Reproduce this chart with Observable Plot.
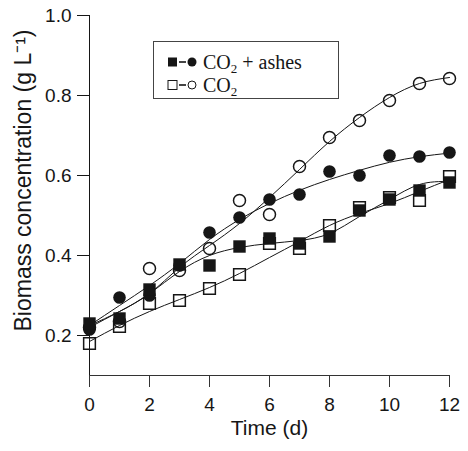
<!DOCTYPE html>
<html><head><meta charset="utf-8">
<script src="https://cdn.jsdelivr.net/npm/d3@7"></script>
<script src="https://cdn.jsdelivr.net/npm/@observablehq/plot@0.6"></script>
<style>body{margin:0;background:#fff}</style>
</head><body><div id="chart"></div>
<script>
const days = [0,1,2,3,4,5,6,7,8,9,10,11,12];
// measured points
const ashSquares = [0.23, 0.2425, 0.315, 0.3775, 0.375, 0.4225, 0.4425, 0.43, 0.4475, 0.5125, 0.54, 0.5625, 0.5825];
const ashCircles = [0.215, 0.295, 0.30, 0.375, 0.4575, 0.495, 0.54, 0.5525, 0.61, 0.60, 0.65, 0.6475, 0.6575];
const co2Squares = [0.18, 0.2225, 0.28, 0.2875, 0.3175, 0.3525, 0.43, 0.4175, 0.475, 0.52, 0.545, 0.5375, 0.5975];
const co2Circles = [0.22, 0.235, 0.3675, 0.3625, 0.4175, 0.5375, 0.5025, 0.6225, 0.695, 0.7375, 0.7875, 0.83, 0.8425];
// fitted curves
const fitAshSquares = [0.225, 0.26, 0.305, 0.36, 0.40, 0.42, 0.43, 0.4375, 0.455, 0.4975, 0.54, 0.5775, 0.585];
const fitAshCircles = [0.225, 0.275, 0.325, 0.38, 0.44, 0.49, 0.53, 0.563, 0.59, 0.613, 0.633, 0.647, 0.656];
const fitCo2Squares = [0.185, 0.225, 0.26, 0.29, 0.32, 0.355, 0.395, 0.435, 0.475, 0.505, 0.53, 0.56, 0.59];
const fitCo2Circles = [0.22, 0.26, 0.305, 0.37, 0.425, 0.48, 0.545, 0.615, 0.685, 0.745, 0.795, 0.83, 0.845];
const xTicks = [0,2,4,6,8,10,12];
const yTicks = [0.2,0.4,0.6,0.8,1.0];
const xTitle = "Time (d)";
const yTitle = "Biomass concentration (g L⁻¹)";
const legendLabels = [["CO", "2", " + ashes"], ["CO", "2", ""]];

const pts = vals => days.map((t,i) => ({t, v: vals[i]}));
const ink = "#161616";
const lineOpts = {x:"t", y:"v", stroke: ink, strokeWidth: 1, curve: "natural"};

const chart = Plot.plot({
  width: 468, height: 451,
  marginLeft: 89, marginRight: 19, marginTop: 15, marginBottom: 76,
  x: {domain: [0, 12]},
  y: {domain: [0.1, 1.0]},
  style: {fontFamily: "'Liberation Sans', Arial, sans-serif", background: "white", color: ink},
  marks: [
    Plot.ruleX([0], {y1: 0.1, y2: 1.0, stroke: ink}),
    Plot.ruleY([0.1], {x1: 0, x2: 12, stroke: "#333"}),
    Plot.axisX({ticks: xTicks, tickSize: 12, tickPadding: 10, fontSize: 19, label: null, stroke: "#333"}),
    Plot.axisY({ticks: yTicks, tickSize: 12, tickPadding: 6, fontSize: 19, tickFormat: d3.format(".1f"), label: null}),
    Plot.text([xTitle], {frameAnchor: "bottom", dy: 59, fontSize: 21}),
    Plot.text([yTitle], {frameAnchor: "left", textAnchor: "middle", rotate: -90, dx: -66, dy: -15, fontSize: 23}),
    Plot.line(pts(fitAshSquares), lineOpts),
    Plot.line(pts(fitAshCircles), lineOpts),
    Plot.line(pts(fitCo2Squares), lineOpts),
    Plot.line(pts(fitCo2Circles), lineOpts),
    Plot.dot(pts(co2Squares), {x:"t", y:"v", symbol:"square", r: 6.6, fill: "none", stroke: ink, strokeWidth: 1.5}),
    Plot.dot(pts(co2Circles), {x:"t", y:"v", symbol:"circle", r: 6, fill: "none", stroke: ink, strokeWidth: 1.5}),
    Plot.dot(pts(ashCircles), {x:"t", y:"v", symbol:"circle", r: 6.3, fill: ink, stroke: "none"}),
    Plot.dot(pts(ashSquares), {x:"t", y:"v", symbol:"square", r: 7, fill: ink, stroke: "none"})
  ]
});
document.getElementById("chart").appendChild(chart);

// legend
const svg = d3.select(chart);
const g = svg.append("g").attr("text-anchor", "start");
g.append("rect").attr("x", 153.5).attr("y", 41.5).attr("width", 185).attr("height", 57)
  .attr("fill", "white").attr("stroke", "#444").attr("stroke-width", 1);
const rows = [{y: 62, filled: true}, {y: 85, filled: false}];
rows.forEach((r, i) => {
  g.append("rect").attr("x", 168).attr("y", r.y - 4.5).attr("width", 9).attr("height", 9)
    .attr("fill", r.filled ? ink : "white").attr("stroke", ink).attr("stroke-width", r.filled ? 0 : 1);
  g.append("line").attr("x1", 179).attr("x2", 186).attr("y1", r.y).attr("y2", r.y).attr("stroke", ink).attr("stroke-width", 1.6);
  g.append("circle").attr("cx", 192).attr("cy", r.y).attr("r", r.filled ? 4.5 : 4)
    .attr("fill", r.filled ? ink : "white").attr("stroke", ink).attr("stroke-width", r.filled ? 0 : 1);
  const t = g.append("text").attr("x", 203).attr("y", r.y + 7).attr("text-anchor", "start")
    .attr("font-family", "'Liberation Serif', 'Times New Roman', serif").attr("font-size", 20).attr("fill", ink);
  const [a, sub, b] = legendLabels[i];
  t.append("tspan").text(a);
  t.append("tspan").attr("font-size", 13).attr("dy", 4).text(sub);
  if (b) t.append("tspan").attr("dy", -4).text(b);
});
</script>
</body></html>
